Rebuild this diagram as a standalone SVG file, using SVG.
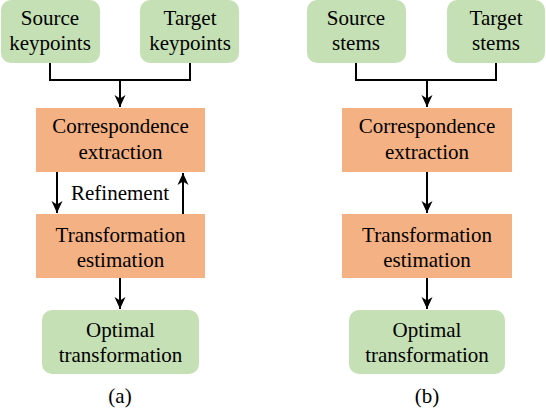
<svg xmlns="http://www.w3.org/2000/svg" width="546" height="412" viewBox="0 0 546 412">
<style>
.g{fill:#C5E0B4}
.o{fill:#F4B183}
text{font-family:'Liberation Serif','Times New Roman',serif;font-size:21px;fill:#000;text-anchor:middle}
.c{fill:none;stroke:#000;stroke-width:2}
</style>
<defs>
<marker id="ah" markerUnits="userSpaceOnUse" markerWidth="14" markerHeight="14" viewBox="-1 -7 14 14" refX="12" refY="0" orient="auto">
<path d="M0,-5.5 L12,0 L0,5.5 L3.5,0 z" fill="#000"/>
</marker>
</defs>
<rect width="546" height="412" fill="#fff"/>
<g id="a-source"><rect class="g" x="1" y="0" width="99" height="63" rx="10"/><text x="50" y="25">Source</text><text x="50" y="50">keypoints</text></g>
<g id="a-target"><rect class="g" x="140" y="0" width="99" height="63" rx="10"/><text x="190" y="25">Target</text><text x="190" y="50">keypoints</text></g>
<g id="a-corr"><rect class="o" x="36" y="108" width="169" height="64"/><text x="120.5" y="133">Correspondence</text><text x="120.5" y="159">extraction</text></g>
<g id="a-trans"><rect class="o" x="36" y="214" width="169" height="64"/><text x="120.5" y="242">Transformation</text><text x="120.5" y="267">estimation</text></g>
<g id="a-opt"><rect class="g" x="42" y="310" width="157" height="64" rx="10"/><text x="120.5" y="337">Optimal</text><text x="120.5" y="362">transformation</text></g>
<g id="a-label"><text x="120" y="403">(a)</text></g>
<g id="b-source"><rect class="g" x="307" y="0" width="99" height="63" rx="10"/><text x="356" y="25">Source</text><text x="356" y="50">stems</text></g>
<g id="b-target"><rect class="g" x="447" y="0" width="98" height="63" rx="10"/><text x="496" y="25">Target</text><text x="496" y="50">stems</text></g>
<g id="b-corr"><rect class="o" x="342" y="108" width="170" height="64"/><text x="427" y="133">Correspondence</text><text x="427" y="159">extraction</text></g>
<g id="b-trans"><rect class="o" x="342" y="214" width="170" height="64"/><text x="427" y="242">Transformation</text><text x="427" y="267">estimation</text></g>
<g id="b-opt"><rect class="g" x="349" y="310" width="156" height="64" rx="10"/><text x="427" y="337">Optimal</text><text x="427" y="362">transformation</text></g>
<g id="b-label"><text x="427" y="403">(b)</text></g>
<g id="connectors">
<polyline class="c" points="50,63 50,80 190,80 190,63"/>
<line class="c" x1="120" y1="80" x2="120" y2="107" marker-end="url(#ah)"/>
<line class="c" x1="57" y1="172" x2="57" y2="213" marker-end="url(#ah)"/>
<line class="c" x1="183" y1="214" x2="183" y2="173" marker-end="url(#ah)"/>
<text x="120" y="200">Refinement</text>
<line class="c" x1="120" y1="278" x2="120" y2="309" marker-end="url(#ah)"/>
<polyline class="c" points="356,63 356,80 496,80 496,63"/>
<line class="c" x1="427" y1="80" x2="427" y2="107" marker-end="url(#ah)"/>
<line class="c" x1="427" y1="172" x2="427" y2="213" marker-end="url(#ah)"/>
<line class="c" x1="427" y1="278" x2="427" y2="309" marker-end="url(#ah)"/>
</g>
</svg>
